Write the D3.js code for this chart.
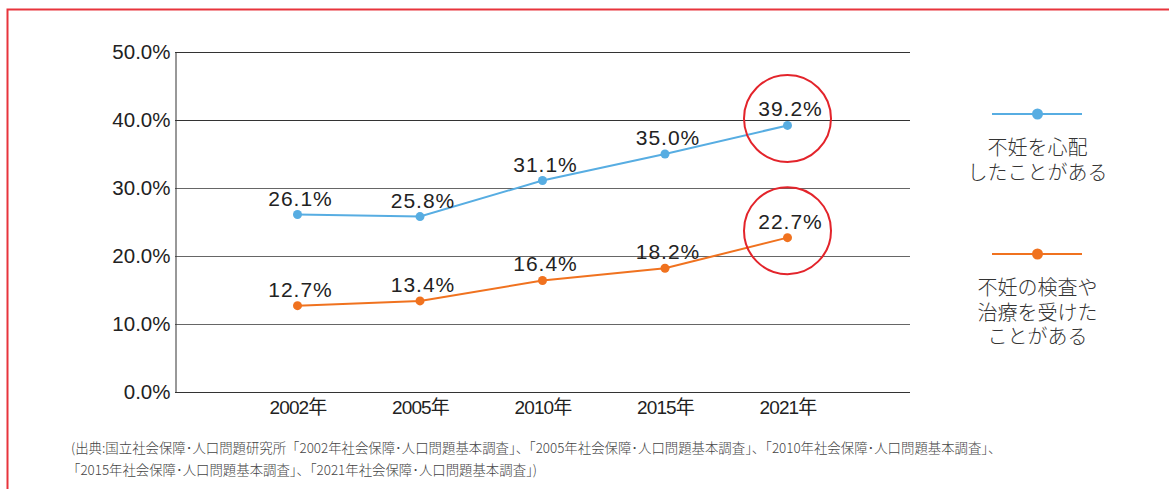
<!DOCTYPE html>
<html>
<head>
<meta charset="utf-8">
<script src="https://cdn.jsdelivr.net/npm/d3@7"></script>
<style>
  body { margin: 0; background: #fff; }
  svg { display: block; }
</style>
</head>
<body>
<div id="chart-area"></div>
<script>
// Data
var years = ["2002年", "2005年", "2010年", "2015年", "2021年"];
var worried = [26.1, 25.8, 31.1, 35.0, 39.2];
var treated = [12.7, 13.4, 16.4, 18.2, 22.7];
var yTicks = [0, 10, 20, 30, 40, 50];
var legendLines = [
    ["不妊を心配", "したことがある"],
    ["不妊の検査や", "治療を受けた", "ことがある"]
];
var sourceLines = [
    "(出典:国立社会保障･人口問題研究所「2002年社会保障･人口問題基本調査」、「2005年社会保障･人口問題基本調査」、「2010年社会保障･人口問題基本調査」、",
    "「2015年社会保障･人口問題基本調査」、「2021年社会保障･人口問題基本調査」)"
];

var width = 1169;
var height = 489;
var margin = { top: 52, right: 259, bottom: 97, left: 175 };

var svg = d3.select("#chart-area")
    .append("svg")
    .attr("width", width)
    .attr("height", height);

// red frame (cropped on right and bottom)
svg.append("path")
    .attr("d", `M7.5,${height + 5} V9.5 H${width + 5}`)
    .attr("fill", "none")
    .attr("stroke", "#e8343c")
    .attr("stroke-width", 2);

var x = d3.scalePoint()
    .domain(years)
    .range([margin.left, width - margin.right])
    .padding(1);

var y = d3.scaleLinear()
    .domain([0, 50])
    .range([height - margin.bottom, margin.top]);

// gridlines
svg.append("g")
    .selectAll("line")
    .data(yTicks)
    .enter()
    .append("line")
    .attr("x1", margin.left)
    .attr("x2", width - margin.right)
    .attr("y1", d => Math.round(y(d)) + 0.5)
    .attr("y2", d => Math.round(y(d)) + 0.5)
    .attr("stroke", d => (d == 0 || d >= 40) ? "#333" : "#666")
    .attr("stroke-width", 1);

// y axis
var yAxis = svg.append("g")
    .attr("transform", `translate(${margin.left + 0.5},0)`)
    .call(d3.axisLeft(y).tickValues(yTicks).tickSize(0).tickPadding(5).tickFormat(d => d.toFixed(1) + "%"));
yAxis.select(".domain").attr("stroke", "#333");
yAxis.selectAll("text")
    .attr("font-family", "Liberation Sans, Arial, sans-serif")
    .attr("font-size", "20.5px")
    .attr("fill", "#222");

// x axis labels
var xAxis = svg.append("g")
    .attr("transform", `translate(0,${height - margin.bottom + 5})`)
    .call(d3.axisBottom(x).tickSize(0).tickPadding(3));
xAxis.select(".domain").remove();
xAxis.selectAll("text")
    .attr("font-family", "'Liberation Sans', 'Noto Sans CJK JP', sans-serif")
    .attr("font-size", "19px")
    .attr("letter-spacing", "-0.9px")
    .attr("fill", "#222");

var series = [
    { values: worried, color: "#57ade2" },
    { values: treated, color: "#f0721f" }
];

var line = d3.line()
    .x((d, i) => x(years[i]))
    .y(d => y(d));

series.forEach((s) => {
    svg.append("path")
        .datum(s.values)
        .attr("d", line)
        .attr("fill", "none")
        .attr("stroke", s.color)
        .attr("stroke-width", 2);

    svg.append("g")
        .selectAll("circle")
        .data(s.values)
        .enter()
        .append("circle")
        .attr("cx", (d, i) => x(years[i]))
        .attr("cy", d => y(d))
        .attr("r", 4.5)
        .attr("fill", s.color);

    svg.append("g")
        .selectAll("text")
        .data(s.values)
        .enter()
        .append("text")
        .attr("x", (d, i) => x(years[i]) + 3)
        .attr("y", d => y(d) - 9)
        .attr("text-anchor", "middle")
        .attr("font-family", "Liberation Sans, Arial, sans-serif")
        .attr("font-size", "21px")
        .attr("letter-spacing", "1px")
        .attr("fill", "#222")
        .text(d => d.toFixed(1) + "%");

    // highlight circle on the last year
    var last = s.values[s.values.length - 1];
    svg.append("circle")
        .attr("cx", x(years[years.length - 1]))
        .attr("cy", y(last) - 7)
        .attr("r", 43.5)
        .attr("fill", "none")
        .attr("stroke", "#e3242b")
        .attr("stroke-width", 2);
});

// legend
var legendY = [114, 254];
var legend = svg.append("g");
series.forEach((s, k) => {
    legend.append("line")
        .attr("x1", 992)
        .attr("x2", 1082)
        .attr("y1", legendY[k])
        .attr("y2", legendY[k])
        .attr("stroke", s.color)
        .attr("stroke-width", 2);
    legend.append("circle")
        .attr("cx", 1037.5)
        .attr("cy", legendY[k])
        .attr("r", 5.5)
        .attr("fill", s.color);
    legend.selectAll(null)
        .data(legendLines[k])
        .enter()
        .append("text")
        .attr("x", 1037.5)
        .attr("y", (d, i) => legendY[k] + 41 + i * 24.5)
        .attr("text-anchor", "middle")
        .attr("font-family", "'Noto Sans CJK JP', sans-serif")
        .attr("font-size", "20px")
        .attr("font-weight", 300)
        .attr("fill", "#333")
        .text(d => d);
});

// source note
svg.append("g")
    .selectAll("text")
    .data(sourceLines)
    .enter()
    .append("text")
    .attr("x", (d, i) => i == 0 ? 71 : 67)
    .attr("y", (d, i) => 453 + i * 22)
    .attr("font-family", "'Noto Sans CJK JP', sans-serif")
    .attr("font-size", "13.4px")
    .attr("font-weight", 300)
    .attr("fill", "#444")
    .text(d => d);
</script>
</body>
</html>
